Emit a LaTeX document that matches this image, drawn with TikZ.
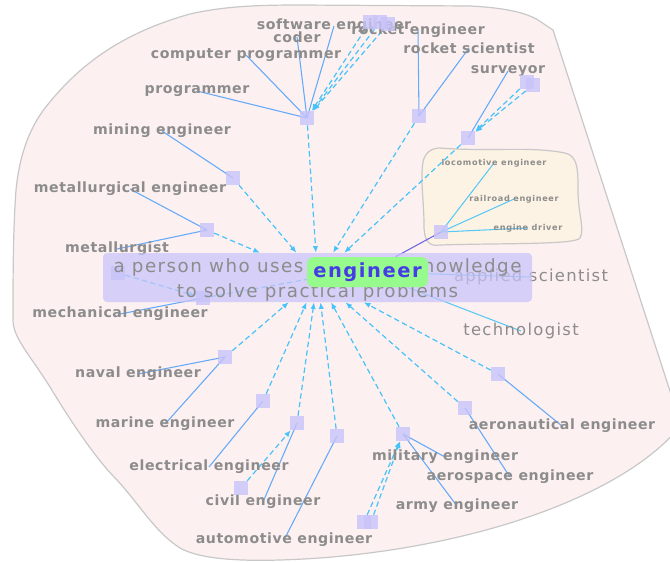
\documentclass[tikz,border=0pt]{standalone}
\usepackage{fontspec}
\usetikzlibrary{arrows.meta}
\newfontfamily\vtfont{DejaVu Sans}[LetterSpace=8]
\newfontfamily\vttight{DejaVu Sans}[LetterSpace=4]
\definecolor{lblgray}{RGB}{140,140,140}
\definecolor{blobfill}{RGB}{253,240,240}
\definecolor{blobline}{RGB}{200,200,200}
\definecolor{creamfill}{RGB}{253,243,228}
\definecolor{hubfill}{RGB}{200,195,250}
\definecolor{linkblue}{RGB}{100,170,250}
\definecolor{dashblue}{RGB}{70,195,250}
\definecolor{railcyan}{RGB}{90,200,245}
\definecolor{typepurple}{RGB}{110,100,230}
\definecolor{engfill}{RGB}{150,250,140}
\definecolor{engtext}{RGB}{70,60,230}
\pgfdeclarelayer{back}
\pgfdeclarelayer{links}
\pgfsetlayers{back,links,main}

\begin{document}
\begin{tikzpicture}[x=0.75pt,y=0.75pt,yscale=-1,xscale=1,
	lbl/.style={font=\vttight\bfseries\fontsize{10.6}{12}\selectfont,text=lblgray,inner sep=0.75pt},
	big/.style={font=\vtfont\fontsize{12.3}{14}\selectfont,text=lblgray,inner sep=0.75pt},
	tiny/.style={font=\vtfont\bfseries\fontsize{6.1}{7}\selectfont,text=lblgray,inner sep=0.75pt},
	hub/.style={fill=hubfill,fill opacity=0.8,minimum size=10.5pt,inner sep=0pt},
	link/.style={draw=linkblue,line width=0.8pt},
	raillink/.style={draw=railcyan,line width=0.8pt},
	syn/.style={draw=dashblue,line width=0.9pt,dash pattern=on 4pt off 2.5pt,-{Latex[length=5pt,width=4pt]}}]
	\useasboundingbox (0,0) rectangle (670,561);
	\node[lbl] (softeng) at (334,26) {software engineer};
	\node[lbl] (coder) at (297,37) {coder};
	\node[lbl] (rocketeng) at (418,31) {rocket engineer};
	\node[lbl] (comprog) at (246,55) {computer programmer};
	\node[lbl] (rocketsci) at (469,48) {rocket scientist};
	\node[lbl] (programmer) at (197,91) {programmer};
	\node[lbl] (surveyor) at (508,71) {surveyor};
	\node[lbl] (mining) at (162,131) {mining engineer};
	\node[lbl] (metaleng) at (130,189) {metallurgical engineer};
	\node[lbl] (metallurgist) at (117,249) {metallurgist};
	\node[lbl] (mecheng) at (120,314) {mechanical engineer};
	\node[lbl] (naval) at (138,374) {naval engineer};
	\node[lbl] (marine) at (165,424) {marine engineer};
	\node[lbl] (electrical) at (209,467) {electrical engineer};
	\node[lbl] (civil) at (263,502) {civil engineer};
	\node[lbl] (automotive) at (284,540) {automotive engineer};
	\node[lbl] (military) at (445,457) {military engineer};
	\node[lbl] (aerospace) at (510,477) {aerospace engineer};
	\node[lbl] (army) at (457,506) {army engineer};
	\node[lbl] (aeronautical) at (562,426) {aeronautical engineer};
	\node[big] (applied) at (531,277) {applied scientist};
	\node[big] (technologist) at (521,331) {technologist};
	\node[tiny] (locomotive) at (494,163) {locomotive engineer};
	\node[tiny] (railroad) at (514,199) {railroad engineer};
	\node[tiny] (enginedriver) at (528,228) {engine driver};
	\node[hub] (hubT1) at (370,22) {};
	\node[hub] (hubT2) at (380,22) {};
	\node[hub] (hubT3) at (388,24) {};
	\node[hub] (hubP) at (307,118) {};
	\node[hub] (hubR) at (419,116) {};
	\node[hub] (hubSV1) at (527,82) {};
	\node[hub] (hubSV2) at (533,85) {};
	\node[hub] (hubS) at (468,138) {};
	\node[hub] (hubM) at (233,178) {};
	\node[hub] (hubMT) at (207,230) {};
	\node[hub] (hubL) at (441,232) {};
	\node[hub] (hubA) at (118,273) {};
	\node[hub] (hubME) at (203,298) {};
	\node[hub] (hubN) at (225,357) {};
	\node[hub] (hubE) at (263,401) {};
	\node[hub] (hubC) at (297,423) {};
	\node[hub] (hubC2) at (241,488) {};
	\node[hub] (hubAU) at (337,436) {};
	\node[hub] (hubMI) at (403,434) {};
	\node[hub] (hubMI2a) at (364,522) {};
	\node[hub] (hubMI2b) at (371,522) {};
	\node[hub] (hubAS) at (465,408) {};
	\node[hub] (hubAN) at (498,374) {};
	\node[fill=hubfill,fill opacity=0.72,rounded corners=3pt,minimum width=321.75pt,minimum height=36.75pt,inner sep=0pt] (desc) at (317.5,277.5) {};
	\node[align=center,inner sep=0pt,text=lblgray,font=\vtfont\fontsize{13.7}{18.75}\selectfont] (desctext) at (317.5,280) {a person who uses scientific knowledge\\to solve practical problems};
	\node[fill=engfill,rounded corners=5pt,minimum width=90.75pt,minimum height=22.5pt,inner sep=0pt,text=engtext,font=\vtfont\bfseries\fontsize{14.6}{16}\selectfont] (eng) at (367.5,272) {engineer};
	\begin{pgfonlayer}{back}
	\draw[draw=blobline,fill=blobfill,line width=0.9pt] (553,30) -- (681,425) .. controls (630,490) and (490,545) .. (320,558) .. controls (260,562) and (205,562) .. (180,548) .. controls (155,532) and (140,505) .. (117,480) .. controls (95,458) and (70,420) .. (50,387) .. controls (30,355) and (13,338) .. (13,320) .. controls (13,280) and (13,230) .. (16,190) .. controls (20,150) and (32,125) .. (45,108) .. controls (75,70) and (115,35) .. (190,14) .. controls (225,6) and (260,5) .. (300,5) -- (470,6) .. controls (510,8) and (530,14) .. (541,22) -- cycle;
	\draw[draw=blobline,fill=creamfill,line width=0.9pt] (440,148) .. controls (490,152) and (530,146) .. (565,153) .. controls (578,156) and (578,170) .. (578,190) .. controls (578,215) and (585,228) .. (580,238) .. controls (575,245) and (500,243) .. (440,245) .. controls (428,247) and (424,240) .. (424,225) .. controls (424,200) and (420,180) .. (423,162) .. controls (425,152) and (432,148) .. (440,148) -- cycle;
	\end{pgfonlayer}
	\begin{pgfonlayer}{links}
	\draw[link] (programmer.center) -- (hubP.center);
	\draw[link] (comprog.center) -- (hubP.center);
	\draw[link] (coder.center) -- (hubP.center);
	\draw[link] (softeng.center) -- (hubP.center);
	\draw[link] (rocketeng.center) -- (hubR.center);
	\draw[link] (rocketsci.center) -- (hubR.center);
	\draw[link] (surveyor.center) -- (hubS.center);
	\draw[link] (mining.center) -- (hubM.center);
	\draw[link] (metaleng.center) -- (hubMT.center);
	\draw[link] (metallurgist.center) -- (hubMT.center);
	\draw[link] (mecheng.center) -- (hubME.center);
	\draw[link] (naval.center) -- (hubN.center);
	\draw[link] (marine.center) -- (hubN.center);
	\draw[link] (electrical.center) -- (hubE.center);
	\draw[link] (civil.center) -- (hubC.center);
	\draw[link] (automotive.center) -- (hubAU.center);
	\draw[link] (military.center) -- (hubMI.center);
	\draw[link] (army.center) -- (hubMI.center);
	\draw[link] (aerospace.center) -- (hubAS.center);
	\draw[link] (aeronautical.center) -- (hubAN.center);
	\draw[raillink] (applied.center) -- (eng);
	\draw[raillink] (technologist.center) -- (eng);
	\draw[raillink] (locomotive.center) -- (hubL.center);
	\draw[raillink] (railroad.center) -- (hubL.center);
	\draw[raillink] (enginedriver.center) -- (hubL.center);
	\draw[draw=typepurple,line width=0.8pt] (hubL.center) -- (eng);
	\draw[syn] (hubT1) -- (hubP);
	\draw[syn] (hubT2) -- (hubP);
	\draw[syn] (hubT3) -- (hubP);
	\draw[syn] (hubSV1) -- (hubS);
	\draw[syn] (hubSV2) -- (hubS);
	\draw[syn] (hubC2) -- (hubC);
	\draw[syn] (hubMI2a) -- (hubMI);
	\draw[syn] (hubMI2b) -- (hubMI);
	\draw[syn] (hubA) -- (hubME);
	\draw[syn] (hubME) -- (desc.center);
	\draw[syn] (hubP) -- (desc);
	\draw[syn] (hubR) -- (desc);
	\draw[syn] (hubS) -- (desc);
	\draw[syn] (hubM) -- (desc);
	\draw[syn] (hubMT) -- (desc);
	\draw[syn] (hubN) -- (desc);
	\draw[syn] (hubE) -- (desc);
	\draw[syn] (hubC) -- (desc);
	\draw[syn] (hubAU) -- (desc);
	\draw[syn] (hubMI) -- (desc);
	\draw[syn] (hubAS) -- (desc);
	\draw[syn] (hubAN) -- (desc);
	\end{pgfonlayer}
\end{tikzpicture}
\end{document}
